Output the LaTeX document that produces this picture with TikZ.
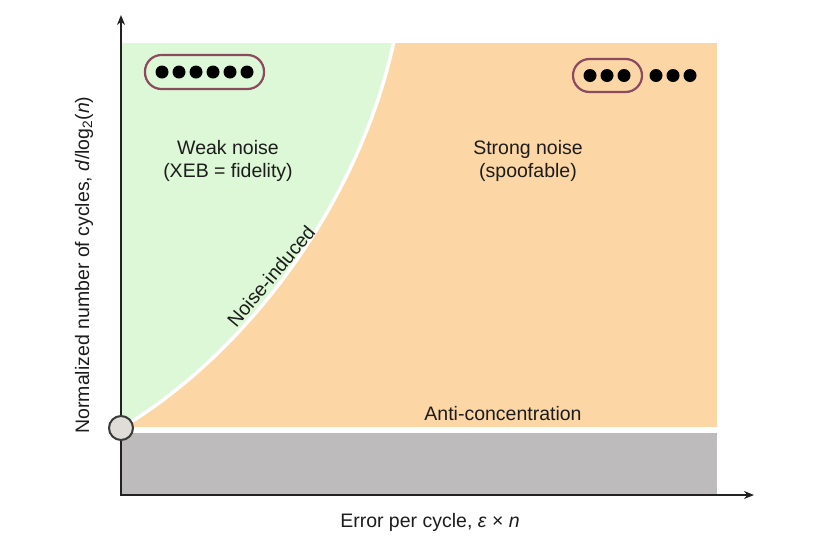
\documentclass[tikz,border=0pt]{standalone}
\usepackage{fontspec}
\setmainfont{Liberation Sans}
\usetikzlibrary{arrows.meta}
\definecolor{weakgreen}{HTML}{DCF8D6}
\definecolor{strongorange}{HTML}{FCD7A5}
\definecolor{lowgray}{HTML}{BDBBBB}
\definecolor{boxc}{HTML}{8C4A5E}
\definecolor{textc}{HTML}{1C1C1C}
\definecolor{axisc}{HTML}{222222}
\definecolor{circfill}{HTML}{E0DDD8}
\definecolor{circdraw}{HTML}{3A3A3A}
\begin{document}
\begin{tikzpicture}[x=1pt,y=-1pt,
  lbl/.style={font=\fontsize{19.5}{23.5}\selectfont, text=textc, align=center, inner sep=0},
  qdot/.style={circle, fill=black, inner sep=0, minimum size=13},
  qbox/.style={draw=boxc, line width=2.2, rounded corners=16.5},
  axisline/.style={draw=axisc, line width=1.5},
  boundary/.style={draw=white, line width=3.5}]
\useasboundingbox (0,0) rectangle (825,550);
% regions
\fill[strongorange] (121,43) rectangle (717,427);
\fill[weakgreen] (121,427) -- (123,427) .. controls (250,350) and (360,200) .. (393,43) -- (121,43) -- cycle;
\draw[boundary] (123,427) .. controls (250,350) and (360,200) .. (394,41);
\fill[lowgray] (121,433) rectangle (717,495);
% axes
\coordinate (Ytop) at (121,15);
\coordinate (O) at (121,495);
\coordinate (Xend) at (754,495);
\draw[axisline, {Stealth[length=10,width=8]}-{Stealth[length=10,width=8]}] (Ytop) -- (O) -- (Xend);
% threshold point
\node[circle, draw=circdraw, fill=circfill, line width=2, minimum size=24, inner sep=0] (pt) at (121,428) {};
% qubit rows, weak noise
\draw[qbox] (145,55) rectangle (264,89);
\foreach \i in {0,...,5} { \node[qdot] (w\i) at ({162+17*\i},72) {}; }
% qubit rows, strong noise
\draw[qbox] (573,59) rectangle (642,92);
\foreach \i in {0,1,2} { \node[qdot] (s\i) at ({590+17*\i},75.5) {}; }
\foreach \i in {0,1,2} { \node[qdot] (t\i) at ({656+17*\i},75.5) {}; }
% labels
\node[lbl] (weak) at (228,161) {Weak noise\\(XEB = fidelity)};
\node[lbl] (strong) at (528,161) {Strong noise\\(spoofable)};
\node[lbl] (anti) at (503,414) {Anti-concentration};
\node[lbl, rotate=50] (induced) at (271,276) {Noise-induced};
\node[lbl] (xlab) at (430,522) {Error per cycle, \textit{ε} × \textit{n}};
\node[lbl, rotate=90] (ylab) at (84,265) {Normalized number of cycles, \textit{d}/log\textsubscript{2}(\textit{n})};
\end{tikzpicture}
\end{document}
